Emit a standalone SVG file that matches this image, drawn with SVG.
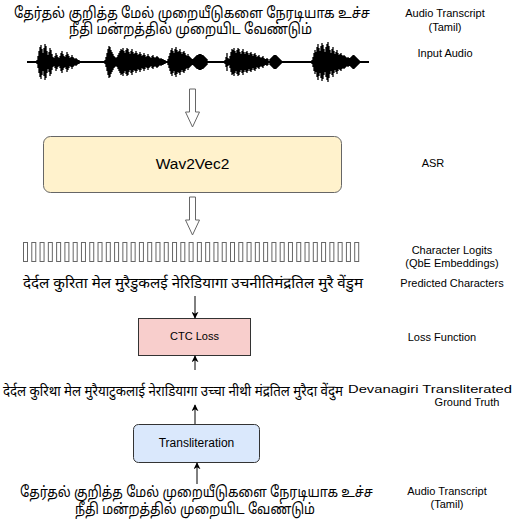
<svg xmlns="http://www.w3.org/2000/svg" width="515" height="522" viewBox="0 0 515 522">
<style>
.lbl{font-family:"Liberation Sans",Arial,sans-serif;font-size:11px;fill:#000;text-anchor:middle}
.ta{font-family:"Noto Sans Tamil","Lohit Tamil","Noto Serif Tamil",sans-serif;font-size:15px;fill:#000}
.hi{font-family:"Noto Sans Devanagari","Lohit Devanagari","Noto Serif Devanagari",sans-serif;font-size:15px;fill:#000}
.hollow{fill:#fff;stroke:#666;stroke-width:1}
.thin{stroke:#000;stroke-width:1;fill:none}
.bar{fill:#fff;stroke:#666;stroke-width:1}
</style>
<defs>
<marker id="ah" viewBox="0 0 10 10" refX="9" refY="5" markerWidth="7" markerHeight="7" markerUnits="userSpaceOnUse" orient="auto">
<path d="M0,0 L10,5 L0,10 L3,5 Z" fill="#000"/>
</marker>
</defs>

<g id="transcript-top">
<text class="ta" x="14" y="18" textLength="356" lengthAdjust="spacingAndGlyphs">தேர்தல் குறித்த மேல் முறையீடுகளை நேரடியாக உச்ச</text>
<text class="ta" x="69" y="34" textLength="243" lengthAdjust="spacingAndGlyphs">நீதி மன்றத்தில் முறையிட வேண்டும்</text>
</g>

<g id="input-audio">
<line x1="27" y1="62" x2="369" y2="62" stroke="#000" stroke-width="2"/>
<path id="wave" stroke="#000" stroke-width="1.3" fill="none" d="M37 60v4M38 56v12M39 51v22M40 47v30M41 45v34M42 49v26M43 53v18M44 48v28M45 44v36M46 46v32M47 51v22M48 55v14M49 52v20M50 48v28M51 50v24M52 54v16M53 57v10M54 58v8M55 56v12M56 53v18M57 55v14M58 57v10M59 58v8M60 56v12M61 53v18M62 51v22M63 54v16M64 56v12M65 57v10M66 55v14M67 52v20M68 54v16M69 56v12M70 58v8M71 57v10M72 55v14M73 57v10M74 58v8M75 59v6M76 58v8M77 59v6M78 60v4M79 60v4
M105 60v4M106 57v10M107 53v18M108 49v26M109 46v32M110 47v30M111 50v24M112 52v20M113 54v16M114 56v12M115 57v10M116 58v8M117 57v10M118 55v14M119 53v18M120 51v22M121 49v26M122 50v24M123 48v28M124 51v22M125 53v18M126 50v24M127 48v28M128 49v26M129 52v20M130 54v16M131 51v22M132 49v26M133 52v20M134 54v16M135 53v18M136 51v22M137 53v18M138 55v14M139 54v16M140 52v20M141 54v16M142 56v12M143 55v14M144 53v18M145 55v14M146 57v10M147 56v12M148 54v16M149 56v12M150 57v10M151 58v8M152 56v12M153 55v14M154 57v10M155 58v8M156 57v10M157 56v12M158 57v10M159 58v8M160 59v6M161 58v8M162 59v6M163 59v6M164 60v4M165 60v4
M168 59v6M169 56v12M170 53v18M171 50v24M172 48v28M173 51v22M174 53v18M175 49v26M176 47v30M177 50v24M178 52v20M179 51v22M180 49v26M181 52v20M182 54v16M183 52v20M184 51v22M185 53v18M186 55v14M187 56v12M188 54v16M189 56v12M190 57v10M191 58v8M192 59v6M193 59v6M194 58v8M195 57v10M196 56v12M197 55v14M198 55v14M199 54v16M200 54v16M201 54v16M202 55v14M203 55v14M204 56v12M205 57v10M206 58v8M207 59v6
M225 60v4M226 57v10M227 53v18M228 58v8M229 59v6M230 56v12M231 52v20M232 49v26M233 50v24M234 48v28M235 51v22M236 53v18M237 50v24M238 48v28M239 49v26M240 52v20M241 54v16M242 51v22M243 49v26M244 52v20M245 54v16M246 52v20M247 51v22M248 53v18M249 55v14M250 53v18M251 52v20M252 54v16M253 56v12M254 54v16M255 53v18M256 55v14M257 57v10M258 56v12M259 55v14M260 57v10M261 58v8M262 57v10M263 56v12M264 58v8M265 59v6M266 59v6M267 58v8M268 59v6M270 59v6M271 58v8M272 57v10M273 56v12M274 55v14M275 55v14M276 55v14M277 56v12M278 57v10M279 58v8M280 59v6M281 60v4
M312 60v4M313 57v10M314 53v18M315 50v24M316 52v20M317 47v30M318 44v36M319 48v28M320 51v22M321 46v32M322 43v38M323 45v34M324 49v26M325 52v20M326 47v30M327 44v36M328 42v40M329 46v32M330 50v24M331 53v18M332 49v26M333 47v30M334 51v22M335 54v16M336 52v20M337 50v24M338 53v18M339 55v14M340 54v16M341 53v18M342 55v14M343 56v12M344 55v14M345 56v12M346 57v10M347 58v8M348 57v10M349 58v8M350 58v8M351 57v10M352 56v12M353 55v14M354 55v14M355 56v12M356 57v10M357 58v8M358 59v6M359 60v4"/>
</g>

<g id="wav2vec2">
<rect x="43.5" y="136.5" width="298" height="56" rx="7" fill="#fff2cc" stroke="#666"/>
<text x="192.5" y="169" font-family="Liberation Sans,Arial,sans-serif" font-size="15.5" text-anchor="middle">Wav2Vec2</text>
</g>

<g id="logits">
<rect class="bar" x="23.5" y="242.5" width="4" height="19"/>
<rect class="bar" x="31.78" y="242.5" width="4" height="19"/>
<rect class="bar" x="40.06" y="242.5" width="4" height="19"/>
<rect class="bar" x="48.34" y="242.5" width="4" height="19"/>
<rect class="bar" x="56.62" y="242.5" width="4" height="19"/>
<rect class="bar" x="64.9" y="242.5" width="4" height="19"/>
<rect class="bar" x="73.18" y="242.5" width="4" height="19"/>
<rect class="bar" x="81.46" y="242.5" width="4" height="19"/>
<rect class="bar" x="89.74" y="242.5" width="4" height="19"/>
<rect class="bar" x="98.02" y="242.5" width="4" height="19"/>
<rect class="bar" x="106.3" y="242.5" width="4" height="19"/>
<rect class="bar" x="114.58" y="242.5" width="4" height="19"/>
<rect class="bar" x="122.86" y="242.5" width="4" height="19"/>
<rect class="bar" x="131.14" y="242.5" width="4" height="19"/>
<rect class="bar" x="139.42" y="242.5" width="4" height="19"/>
<rect class="bar" x="147.7" y="242.5" width="4" height="19"/>
<rect class="bar" x="155.98" y="242.5" width="4" height="19"/>
<rect class="bar" x="164.26" y="242.5" width="4" height="19"/>
<rect class="bar" x="172.54" y="242.5" width="4" height="19"/>
<rect class="bar" x="180.82" y="242.5" width="4" height="19"/>
<rect class="bar" x="189.1" y="242.5" width="4" height="19"/>
<rect class="bar" x="197.38" y="242.5" width="4" height="19"/>
<rect class="bar" x="205.66" y="242.5" width="4" height="19"/>
<rect class="bar" x="213.94" y="242.5" width="4" height="19"/>
<rect class="bar" x="222.22" y="242.5" width="4" height="19"/>
<rect class="bar" x="230.5" y="242.5" width="4" height="19"/>
<rect class="bar" x="238.78" y="242.5" width="4" height="19"/>
<rect class="bar" x="247.06" y="242.5" width="4" height="19"/>
<rect class="bar" x="255.34" y="242.5" width="4" height="19"/>
<rect class="bar" x="263.62" y="242.5" width="4" height="19"/>
<rect class="bar" x="271.9" y="242.5" width="4" height="19"/>
<rect class="bar" x="280.18" y="242.5" width="4" height="19"/>
<rect class="bar" x="288.46" y="242.5" width="4" height="19"/>
<rect class="bar" x="296.74" y="242.5" width="4" height="19"/>
<rect class="bar" x="305.02" y="242.5" width="4" height="19"/>
<rect class="bar" x="313.3" y="242.5" width="4" height="19"/>
<rect class="bar" x="321.58" y="242.5" width="4" height="19"/>
<rect class="bar" x="329.86" y="242.5" width="4" height="19"/>
<rect class="bar" x="338.14" y="242.5" width="4" height="19"/>
<rect class="bar" x="346.42" y="242.5" width="4" height="19"/>
<rect class="bar" x="354.7" y="242.5" width="4" height="19"/>
</g>

<g id="predicted">
<text class="hi" x="23" y="288" textLength="340" lengthAdjust="spacingAndGlyphs">देर्दल कुरिता मेल मुरैडुकलई नेरिडियागा उचनीतिमंद्रतिल मुरै वेंडुम</text>
</g>

<g id="ctc-loss">
<rect x="138.5" y="318.5" width="112" height="37" fill="#f8cecc" stroke="#333"/>
<text x="194.5" y="340" font-family="Liberation Sans,Arial,sans-serif" font-size="11" text-anchor="middle">CTC Loss</text>
</g>

<g id="ground-truth">
<text class="hi" x="3" y="396" textLength="340" lengthAdjust="spacingAndGlyphs">देर्दल कुरिथा मेल मुरैयाटुकलाई नेराडियागा उच्चा नीथी मंद्रतिल मुरैदा वेंदुम</text>
</g>

<g id="transliteration">
<rect x="133.5" y="424.5" width="126" height="38" rx="5" fill="#dae8fc" stroke="#333"/>
<text x="196.5" y="447" font-family="Liberation Sans,Arial,sans-serif" font-size="12" text-anchor="middle">Transliteration</text>
</g>

<g id="transcript-bottom">
<text class="ta" x="20" y="497" textLength="353" lengthAdjust="spacingAndGlyphs">தேர்தல் குறித்த மேல் முறையீடுகளை நேரடியாக உச்ச</text>
<text class="ta" x="75" y="514" textLength="240" lengthAdjust="spacingAndGlyphs">நீதி மன்றத்தில் முறையிட வேண்டும்</text>
</g>

<g id="connectors">
<polygon class="hollow" points="189.5,89 195.5,89 195.5,112 199.5,112 192.5,127 185.5,112 189.5,112"/>
<polygon class="hollow" points="189.5,197 195.5,197 195.5,220 199.5,220 192.5,235 185.5,220 189.5,220"/>
<line class="thin" x1="195" y1="296" x2="195" y2="318" marker-end="url(#ah)"/>
<line class="thin" x1="195" y1="370" x2="195" y2="356" marker-end="url(#ah)"/>
<line class="thin" x1="195" y1="424" x2="195" y2="405" marker-end="url(#ah)"/>
<line class="thin" x1="197" y1="484" x2="197" y2="463" marker-end="url(#ah)"/>
</g>

<g id="labels">
<text class="lbl" x="445" y="17">Audio Transcript</text>
<text class="lbl" x="445" y="31">(Tamil)</text>
<text class="lbl" x="445" y="57">Input Audio</text>
<text class="lbl" x="433" y="167">ASR</text>
<text class="lbl" x="452" y="254">Character Logits</text>
<text class="lbl" x="452" y="267">(QbE Embeddings)</text>
<text class="lbl" x="452" y="287">Predicted Characters</text>
<text class="lbl" x="442" y="341">Loss Function</text>
<text class="lbl" x="348" y="393" style="text-anchor:start;font-size:10.5px" textLength="164" lengthAdjust="spacingAndGlyphs">Devanagiri Transliterated</text>
<text class="lbl" x="467" y="406">Ground Truth</text>
<text class="lbl" x="447" y="495">Audio Transcript</text>
<text class="lbl" x="447" y="508">(Tamil)</text>
</g>
</svg>
